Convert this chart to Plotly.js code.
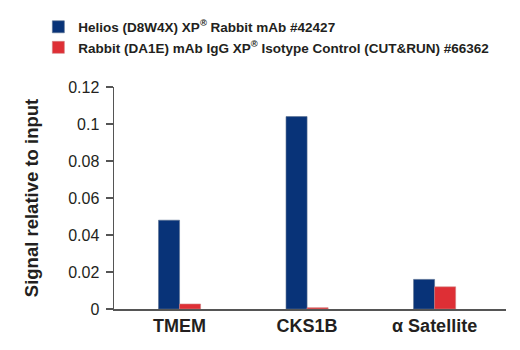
<!DOCTYPE html>
<html><head><meta charset="utf-8">
<script src="https://cdn.plot.ly/plotly-3.0.1.min.js"></script>
<style>body{margin:0}#c{width:520px;height:350px}</style>
</head><body><div id="c"></div>
<script>
const categories = ["TMEM", "CKS1B", "α Satellite"];
const heliosValues = [0.048, 0.104, 0.016];
const isotypeValues = [0.0027, 0.0007, 0.012];
const seriesNames = ["Helios (D8W4X) XP<sup>®</sup> Rabbit mAb #42427",
                     "Rabbit (DA1E) mAb IgG XP<sup>®</sup> Isotype Control (CUT&RUN) #66362"];
const yTicks = [0, 0.02, 0.04, 0.06, 0.08, 0.1, 0.12];
const yTickText = ["0", "0.02", "0.04", "0.06", "0.08", "0.1", "0.12"];

const FONT = "'Liberation Sans', Arial, sans-serif";
const data = [
  {type: "bar", x: categories, y: heliosValues, name: seriesNames[0],
   marker: {color: "#083378", line: {color: "#5a7090", width: 0.6}}},
  {type: "bar", x: categories, y: isotypeValues, name: seriesNames[1],
   marker: {color: "#de2f35", line: {color: "#d08080", width: 0.6}}}
];
const layout = {
  width: 520, height: 350,
  margin: {l: 114, r: 14, t: 83, b: 41},
  paper_bgcolor: "#fff", plot_bgcolor: "#fff",
  font: {family: FONT, color: "#231f20"},
  barmode: "group", bargap: 0.67, bargroupgap: 0,
  showlegend: true,
  legend: {x: -0.193, y: 1.34,
           xanchor: "left", yanchor: "top", orientation: "v",
           font: {family: FONT, size: 13.5, color: "#231f20", weight: "bold"},
           itemwidth: 30, tracegroupgap: 0, bgcolor: "rgba(0,0,0,0)"},
  xaxis: {type: "category", range: [-0.514, 2.56], showline: true, linecolor: "#555",
          linewidth: 1.5, ticks: "", showgrid: false, zeroline: false,
          tickfont: {family: FONT, size: 18, weight: "bold", color: "#231f20"}},
  yaxis: {range: [0, 0.12], tickvals: yTicks, ticktext: yTickText,
          showline: true, linecolor: "#555", linewidth: 1.5,
          ticks: "outside", ticklen: 7, tickcolor: "#555", tickwidth: 1.2,
          ticklabelstandoff: 3,
          showgrid: false, zeroline: false,
          tickfont: {family: FONT, size: 16, color: "#231f20"},
          title: {text: "Signal relative to input", standoff: 24,
                  font: {family: FONT, size: 18.5, weight: "bold", color: "#231f20"}}}
};
Plotly.newPlot("c", data, layout, {staticPlot: true, displayModeBar: false});
</script></body></html>
